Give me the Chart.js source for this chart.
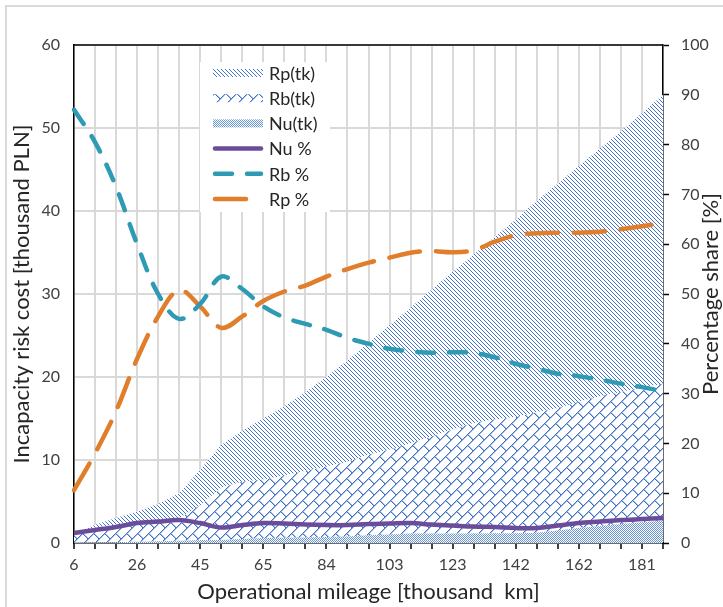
<!DOCTYPE html>
<html>
<head>
<meta charset="utf-8">
<script src="https://cdn.jsdelivr.net/npm/chart.js@4.4.1/dist/chart.umd.min.js"></script>
<style>
  html, body { margin: 0; padding: 0; background: #fff; }
  #wrap { width: 723px; height: 607px; position: relative; }
</style>
</head>
<body>
<div id="wrap"><canvas id="riskChart" width="723" height="607"></canvas></div>
<script>
// operational mileage [thousand km], one category per grid line
const mileage = [6, 12, 19, 26, 32, 38, 45, 52, 58, 65, 71, 78, 84, 90, 97, 103, 110, 116, 123, 129, 136, 142, 149, 155, 162, 168, 175, 181, 188];

// cost components [thousand PLN] (stacked areas, left axis)
const nuCost = [0.02, 0.06, 0.1, 0.15, 0.2, 0.28, 0.35, 0.37, 0.49, 0.6, 0.64, 0.67, 0.72, 0.79, 0.92, 1.02, 1.13, 1.13, 1.14, 1.15, 1.18, 1.17, 1.24, 1.52, 1.82, 2.04, 2.28, 2.49, 2.7];
const rbCost = [0.87, 1.77, 2.14, 2.28, 2.35, 2.7, 4.2, 6.3, 6.9, 7.05, 7.45, 8.0, 8.5, 9.0, 9.7, 10.2, 10.9, 11.7, 12.5, 13.3, 13.7, 14.0, 14.5, 14.7, 15.2, 15.6, 15.9, 16.2, 16.5];
const rpCost = [0.11, 0.37, 0.76, 1.37, 2.15, 3.02, 4.3, 5.13, 6.13, 7.35, 8.4, 9.5, 10.8, 12.2, 13.5, 15.0, 16.3, 17.7, 19.0, 20.3, 22.0, 23.8, 25.5, 27.1, 28.4, 29.9, 31.4, 33.1, 34.8];

// percentage shares [%] (lines, right axis)
const nuPct = [2.0, 2.6, 3.2, 4.0, 4.3, 4.6, 4.0, 3.1, 3.6, 4.0, 3.9, 3.7, 3.6, 3.6, 3.8, 3.9, 4.0, 3.7, 3.5, 3.3, 3.2, 3.0, 3.0, 3.5, 4.0, 4.3, 4.6, 4.8, 5.0];
const rbPct = [87, 80.5, 71.5, 60, 50, 45, 48, 53.5, 51, 47.5, 45.3, 44, 42.8, 41.2, 40.0, 39.0, 38.5, 38.2, 38.3, 38.2, 37.3, 36, 35, 34, 33.5, 32.8, 32, 31.3, 30.5];
const rpPct = [10.6, 18, 26.5, 37, 45.5, 50.8, 47.5, 43.2, 45.5, 48.6, 50.5, 51.7, 53.5, 55, 56.3, 57.3, 58.3, 58.6, 58.4, 58.8, 60.5, 61.8, 62.2, 62.3, 62.3, 62.5, 63, 63.6, 64.3];

const leftTicks = [0, 10, 20, 30, 40, 50, 60];
const rightTicks = [0, 10, 20, 30, 40, 50, 60, 70, 80, 90, 100];

const FONT = 'Lato, "Open Sans", sans-serif';
const textColor = '#404040';
const titleColor = '#262626';
const gridColor = '#d9d9d9';
const hatchBlue = '#4472c4';
const hatchLight = '#a8c0e8';

// small tiles for the Excel-like fill patterns
function makePattern(size, draw) {
  const c = document.createElement('canvas');
  c.width = size;
  c.height = size;
  const g = c.getContext('2d');
  g.fillStyle = '#ffffff';
  g.fillRect(0, 0, size, size);
  draw(g);
  return g.createPattern(c, 'repeat');
}

const rpPattern = makePattern(4, g => {
  g.fillStyle = hatchBlue;
  for (let i = 0; i < 4; i++) g.fillRect(i, i, 1, 1);
});

// diagonal brick
const BRICK = 11;
const rbPattern = makePattern(BRICK, g => {
  g.fillStyle = hatchLight;
  for (let k = 0; k < BRICK; k++) g.fillRect((BRICK - k) % BRICK, k, 1, 1);
  for (let k = 5; k < BRICK; k++) g.fillRect((k + 1) % BRICK, k, 1, 1);
  g.fillStyle = hatchBlue;
  for (let k = 0; k < BRICK; k++) g.fillRect(BRICK - 1 - k, k, 1, 1);
  for (let k = 5; k < BRICK; k++) g.fillRect(k, k, 1, 1);
});

const nuPattern = makePattern(2, g => {
  g.fillStyle = '#6a96d8';
  g.fillRect(0, 0, 1, 1);
  g.fillRect(1, 1, 1, 1);
});

const lineColors = { nu: '#6b4c9a', rb: '#2e9ab3', rp: '#e07e2b' };

// light frame, black top border of the plot area, right axis title (reads upward)
const framePlugin = {
  id: 'frame',
  beforeDraw(chart) {
    const c = chart.ctx;
    c.save();
    c.fillStyle = '#fff';
    c.fillRect(0, 0, chart.width, chart.height);
    c.restore();
  },
  afterDraw(chart) {
    const c = chart.ctx;
    const a = chart.chartArea;
    c.save();
    c.strokeStyle = gridColor;
    c.lineWidth = 2;
    c.beginPath();
    c.moveTo(6, chart.height);
    c.lineTo(6, 6);
    c.lineTo(chart.width, 6);
    c.stroke();
    c.strokeStyle = '#000';
    c.lineWidth = 1.5;
    c.beginPath();
    c.moveTo(a.left, a.top);
    c.lineTo(a.right, a.top);
    c.stroke();

    c.translate(711, (a.top + a.bottom) / 2);
    c.rotate(-Math.PI / 2);
    c.fillStyle = titleColor;
    c.font = '22px ' + FONT;
    c.textAlign = 'center';
    c.textBaseline = 'middle';
    c.fillText('Percentage share [%]', 0, 0);
    c.restore();
  }
};

// legend box inside the plot area
const legendItems = [
  { text: 'Rp(tk)', fill: rpPattern },
  { text: 'Rb(tk)', fill: rbPattern },
  { text: 'Nu(tk)', fill: nuPattern },
  { text: 'Nu %', line: lineColors.nu, dash: [], len: 50 },
  { text: 'Rb %', line: lineColors.rb, dash: [17, 15], len: 50 },
  { text: 'Rp %', line: lineColors.rp, dash: [], len: 35 }
];

const insideLegend = {
  id: 'insideLegend',
  afterDraw(chart) {
    const c = chart.ctx;
    c.save();
    c.fillStyle = '#fff';
    c.fillRect(200, 62, 130, 150);
    legendItems.forEach((item, i) => {
      const cy = 73 + i * 25.2;
      if (item.fill) {
        c.fillStyle = item.fill;
        c.fillRect(213, cy - 4, 50, 8);
      } else {
        c.strokeStyle = item.line;
        c.lineWidth = 4.5;
        c.lineCap = 'round';
        c.setLineDash(item.dash);
        c.beginPath();
        c.moveTo(215, cy);
        c.lineTo(215 + item.len - 4, cy);
        c.stroke();
        c.setLineDash([]);
      }
      c.fillStyle = titleColor;
      c.font = '18px ' + FONT;
      c.textBaseline = 'middle';
      c.textAlign = 'left';
      c.fillText(item.text, 269, cy + 1);
    });
    c.restore();
  }
};

const ctx = document.getElementById('riskChart').getContext('2d');

new Chart(ctx, {
  type: 'line',
  data: {
    labels: mileage,
    datasets: [
      {
        label: 'Nu %', data: nuPct, yAxisID: 'y1',
        borderColor: lineColors.nu, borderWidth: 4.5, tension: 0.35,
        pointRadius: 0, fill: false
      },
      {
        label: 'Rb %', data: rbPct, yAxisID: 'y1',
        borderColor: lineColors.rb, borderWidth: 4.5, tension: 0.35,
        borderDash: [17, 15], borderCapStyle: 'round',
        pointRadius: 0, fill: false
      },
      {
        label: 'Rp %', data: rpPct, yAxisID: 'y1',
        borderColor: lineColors.rp, borderWidth: 4.5, tension: 0.35,
        borderDash: [31, 16], borderCapStyle: 'round',
        pointRadius: 0, fill: false
      },
      {
        label: 'Nu(tk)', data: nuCost, yAxisID: 'y',
        backgroundColor: nuPattern, borderWidth: 0, pointRadius: 0,
        tension: 0, fill: 'origin'
      },
      {
        label: 'Rb(tk)', data: rbCost, yAxisID: 'y',
        backgroundColor: rbPattern, borderWidth: 0, pointRadius: 0,
        tension: 0, fill: '-1'
      },
      {
        label: 'Rp(tk)', data: rpCost, yAxisID: 'y',
        backgroundColor: rpPattern, borderWidth: 0, pointRadius: 0,
        tension: 0, fill: '-1'
      }
    ]
  },
  options: {
    responsive: false,
    animation: false,
    layout: { padding: { top: 45, left: 0, right: 0, bottom: 0 } },
    plugins: {
      legend: { display: false },
      tooltip: { enabled: false }
    },
    scales: {
      x: {
        type: 'category',
        offset: false,
        grid: { color: gridColor, lineWidth: 2, tickColor: '#000', tickLength: 6, tickWidth: 1.5 },
        border: { color: '#000', width: 1.5 },
        ticks: {
          autoSkip: false, maxRotation: 0, padding: 6,
          color: textColor, font: { family: FONT, size: 16 },
          callback: (v, i) => (i % 3 === 0 ? mileage[i] : '')
        },
        title: {
          display: true, text: 'Operational mileage [thousand  km]',
          color: titleColor, font: { family: FONT, size: 22 },
          padding: { top: 0, bottom: 2 }
        },
        afterFit: s => { s.height = 64; }
      },
      y: {
        position: 'left',
        stacked: true,
        min: 0, max: 60,
        afterBuildTicks: s => { s.ticks = leftTicks.map(v => ({ value: v })); },
        ticks: { padding: 14, color: textColor, font: { family: FONT, size: 16 } },
        grid: { color: gridColor, lineWidth: 2, drawTicks: false },
        border: { color: '#000', width: 1.5 },
        title: {
          display: true, text: 'Incapacity risk cost [thousand PLN]',
          color: titleColor, font: { family: FONT, size: 22 },
          padding: { top: 9, bottom: 0 }
        },
        afterFit: s => { s.width = 74; }
      },
      y1: {
        position: 'right',
        min: 0, max: 100,
        afterBuildTicks: s => { s.ticks = rightTicks.map(v => ({ value: v })); },
        ticks: { padding: 12, color: textColor, font: { family: FONT, size: 16 } },
        grid: { drawOnChartArea: false, tickColor: '#000', tickLength: 6, tickWidth: 1.5 },
        border: { color: '#000', width: 1.5 },
        title: { display: false },
        afterFit: s => { s.width = 60; }
      }
    }
  },
  plugins: [framePlugin, insideLegend]
});
</script>
</body>
</html>
